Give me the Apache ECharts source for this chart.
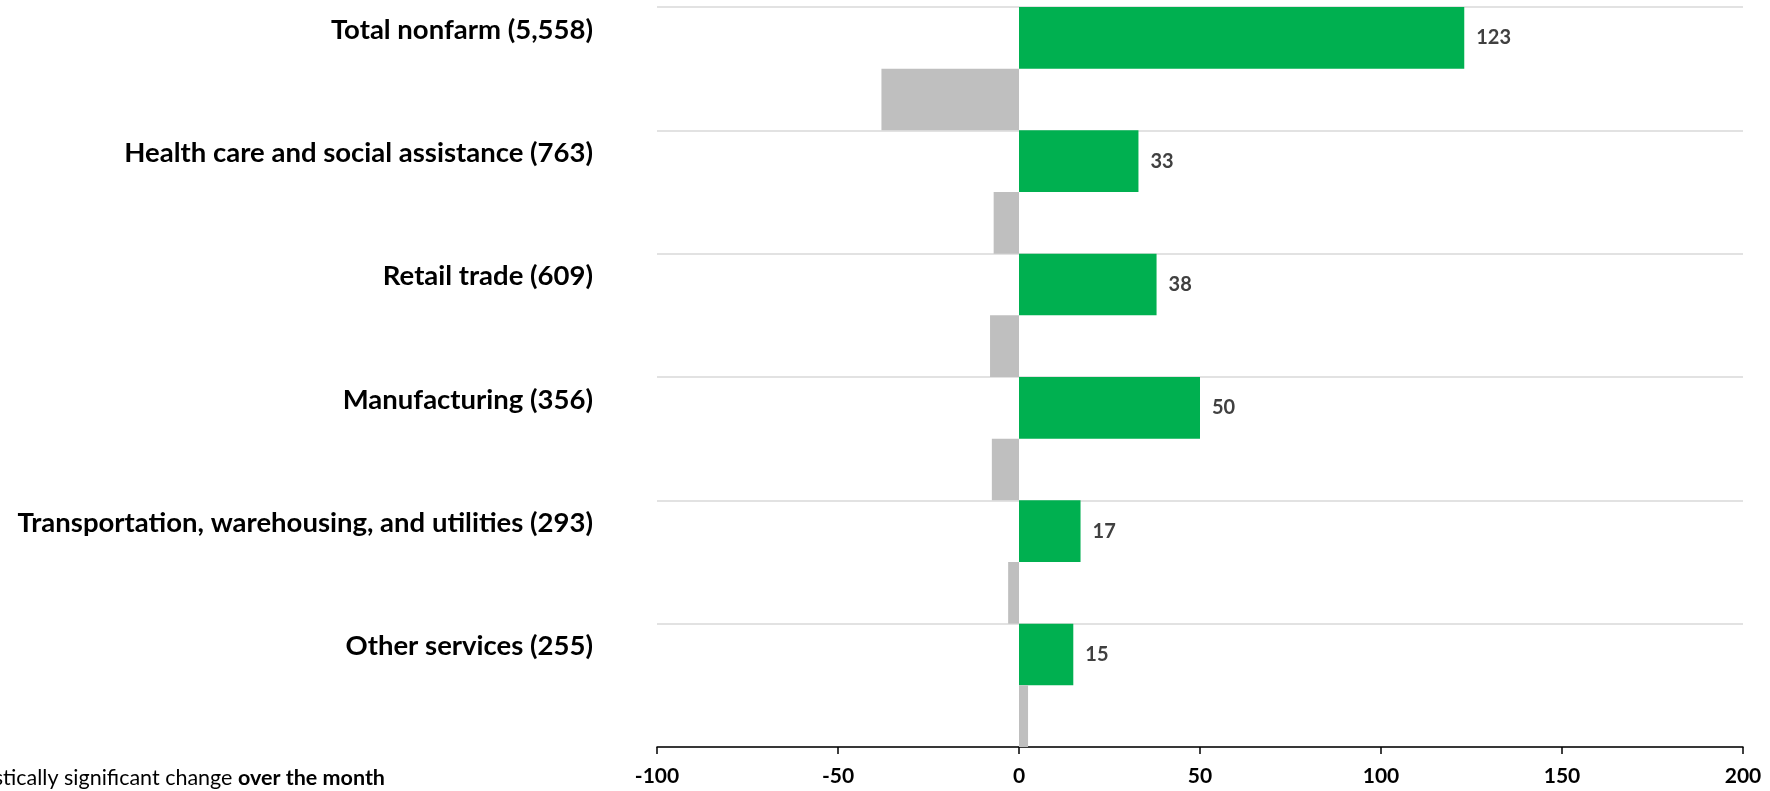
<!DOCTYPE html>
<html>
<head>
<meta charset="utf-8">
<script src="https://cdn.jsdelivr.net/npm/echarts@6/dist/echarts.min.js"></script>
<style>
html,body{margin:0;padding:0;background:#fff;}
#chart{width:1770px;height:791px;}
</style>
</head>
<body>
<div id="chart"></div>
<script>
const categories = [
  "Total nonfarm (5,558)",
  "Health care and social assistance (763)",
  "Retail trade (609)",
  "Manufacturing (356)",
  "Transportation, warehousing, and utilities (293)",
  "Other services (255)"
];
const greenValues = [123, 33, 38, 50, 17, 15];
const greyValues = [-38, -7, -8, -7.5, -3, 2.5];
const xTicks = { min: -100, max: 200, interval: 50 };
const footnoteLead = "Green bars indicate a statistically significant change ";
const footnoteBold = "over the month";

const chart = echarts.init(document.getElementById('chart'));
const FONT = 'Lato, "Noto Sans", sans-serif';
chart.setOption({
  animation: false,
  backgroundColor: '#ffffff',
  grid: { left: 657, right: 27, top: 7, bottom: 44, containLabel: false, outerBoundsMode: 'none' },
  xAxis: {
    type: 'value',
    min: xTicks.min, max: xTicks.max, interval: xTicks.interval,
    axisLine: { show: true, lineStyle: { color: '#000', width: 1.5 } },
    axisTick: { show: true, length: 7, lineStyle: { color: '#000', width: 1.5 } },
    axisLabel: { color: '#000', fontWeight: 'bold', fontSize: 21, fontFamily: FONT, margin: 19 },
    splitLine: { show: false }
  },
  yAxis: {
    type: 'category',
    inverse: true,
    data: categories,
    axisLine: { show: false },
    axisTick: { show: false },
    splitLine: { show: true, lineStyle: { color: '#d9d9d9', width: 1.5 } },
    axisLabel: {
      color: '#000', fontWeight: 'bold', fontSize: 27.5, fontFamily: FONT,
      margin: 64, lineHeight: 78,
      interval: 0, showMinLabel: true, showMaxLabel: true, hideOverlap: false,
      formatter: function (v) { return v + '\n '; }
    }
  },
  series: [
    {
      type: 'bar',
      data: greenValues,
      barGap: '0%',
      barCategoryGap: '0%',
      itemStyle: { color: '#00b050' },
      label: {
        show: true, position: 'right', distance: 12,
        color: '#404040', fontWeight: 'bold', fontSize: 20, fontFamily: FONT
      }
    },
    {
      type: 'bar',
      data: greyValues,
      barGap: '0%',
      barCategoryGap: '0%',
      itemStyle: { color: '#bfbfbf' },
      label: { show: false }
    }
  ],
  graphic: [
    {
      type: 'text',
      x: 385, y: 778,
      style: {
        text: '{n|' + footnoteLead + '}{b|' + footnoteBold + '}',
        align: 'right',
        verticalAlign: 'middle',
        rich: {
          n: { fontFamily: FONT, fontSize: 21.5, fill: '#000', color: '#000' },
          b: { fontFamily: FONT, fontSize: 21.5, fontWeight: 'bold', fill: '#000', color: '#000' }
        }
      }
    }
  ]
});
</script>
</body>
</html>
